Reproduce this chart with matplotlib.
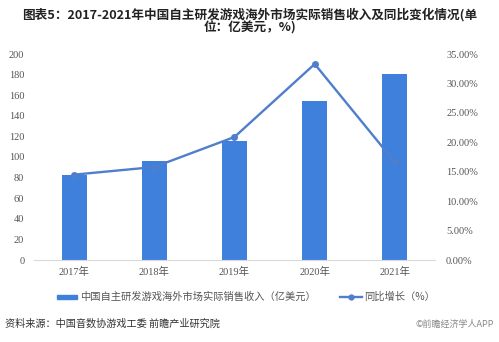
import matplotlib.pyplot as plt
from matplotlib.ticker import FuncFormatter

plt.rcParams['font.family'] = ['Noto Sans CJK SC', 'DejaVu Sans']

years = ["2017年", "2018年", "2019年", "2020年", "2021年"]
revenue = [82.8, 95.9, 115.9, 154.5, 180.1]      # 亿美元
growth = [14.5, 15.8, 20.9, 33.3, 16.6]          # %

W, H = 499, 342
fig = plt.figure(figsize=(W / 100, H / 100), dpi=100)
ax = fig.add_axes([34 / W, 1 - 260 / H, (435 - 34) / W, (260 - 54) / H])
ax2 = ax.twinx()

bar_color = "#3f80dc"
line_color = "#4f7fcc"
x = range(len(years))

ax.bar(x, revenue, width=25 / 80, color=bar_color, zorder=2)
ax2.plot(x, [g / 100 for g in growth], color=line_color, lw=1.7,
         marker="o", ms=4, zorder=3)

ax.set_xlim(-0.5, len(years) - 0.5)
ax.set_ylim(0, 200)
ax.set_yticks(range(0, 201, 20))
ax2.set_ylim(0, 0.35)
ax2.set_yticks([i * 0.05 for i in range(8)])
ax2.yaxis.set_major_formatter(FuncFormatter(lambda v, p: f"{v * 100:.2f}%"))

ax.set_xticks(list(x))
ax.set_xticklabels(years)

for a in (ax, ax2):
    for s in a.spines.values():
        s.set_visible(False)
    a.tick_params(length=0, colors="#555555")
ax.spines["bottom"].set_visible(True)
ax.spines["bottom"].set_color("#d9d9d9")
for lab in ax.get_yticklabels() + ax2.get_yticklabels() + ax.get_xticklabels():
    lab.set_fontfamily(["Liberation Serif", "Noto Sans CJK SC"])
    lab.set_fontsize(7.5)
ax.tick_params(axis="y", pad=7)
ax2.tick_params(axis="y", pad=8)
ax.tick_params(axis="x", pad=5)

fig.text(0.5, 1 - 15 / H,
         "图表5：2017-2021年中国自主研发游戏海外市场实际销售收入及同比变化情况(单",
         ha="center", va="center", fontsize=9.1, fontweight="bold", color="#222222")
fig.text(0.5, 1 - 28 / H, "位：亿美元，%)",
         ha="center", va="center", fontsize=9.1, fontweight="bold", color="#222222")

# legend
fig.patches.append(plt.Rectangle((57 / W, 1 - 299 / H), 20 / W, 4 / H,
                                 transform=fig.transFigure, color=bar_color))
fig.text(80 / W, 1 - 297 / H, "中国自主研发游戏海外市场实际销售收入（亿美元）",
         ha="left", va="center", fontsize=7.4, color="#555555")
fig.lines.append(plt.Line2D([340 / W, 362 / W], [1 - 297 / H, 1 - 297 / H],
                            transform=fig.transFigure, color=line_color, lw=1.7))
fig.lines.append(plt.Line2D([351 / W], [1 - 297 / H], transform=fig.transFigure,
                            color=line_color, marker="o", ms=3.5))
fig.text(364 / W, 1 - 297 / H, "同比增长（%）",
         ha="left", va="center", fontsize=7.4, color="#555555")

fig.text(5 / W, 1 - 324 / H, "资料来源：中国音数协游戏工委 前瞻产业研究院",
         ha="left", va="center", fontsize=7.3, color="#333333")
fig.text(494 / W, 1 - 324 / H, "©前瞻经济学人APP",
         ha="right", va="center", fontsize=6.5, color="#888888")

fig.savefig("out.png", dpi=100)
